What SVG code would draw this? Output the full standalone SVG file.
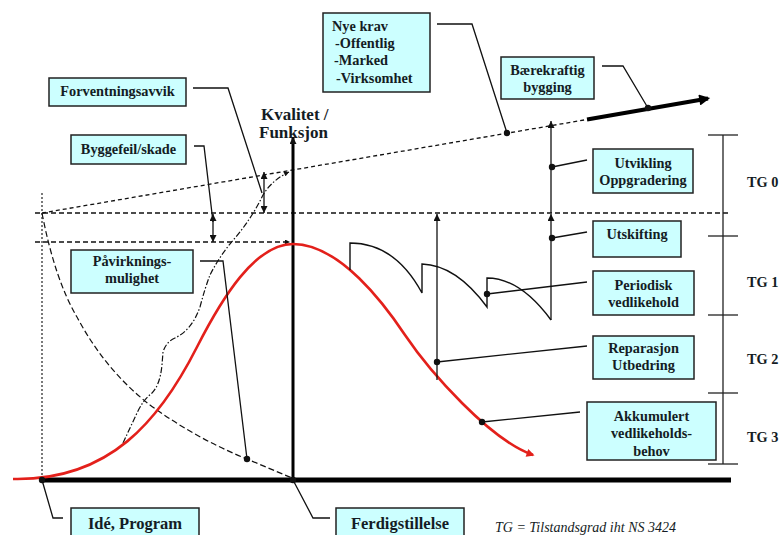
<svg xmlns="http://www.w3.org/2000/svg" width="780" height="535" viewBox="0 0 780 535">
<defs>
<marker id="ah" viewBox="0 0 10 10" refX="10" refY="5" markerUnits="userSpaceOnUse" markerWidth="8" markerHeight="7" orient="auto-start-reverse"><path d="M0,0 L10,5 L0,10 z" fill="#111"/></marker>
<marker id="ahs" viewBox="0 0 10 10" refX="10" refY="5" markerUnits="userSpaceOnUse" markerWidth="6" markerHeight="5" orient="auto-start-reverse"><path d="M0,0 L10,5 L0,10 z" fill="#111"/></marker>
<marker id="ahb" viewBox="0 0 10 10" refX="8" refY="5" markerUnits="userSpaceOnUse" markerWidth="14" markerHeight="11" orient="auto"><path d="M0,0 L10,5 L0,10 z" fill="#000"/></marker>
<marker id="ahr" viewBox="0 0 10 10" refX="8" refY="5" markerUnits="userSpaceOnUse" markerWidth="10" markerHeight="8" orient="auto"><path d="M0,0 L10,5 L0,10 z" fill="#e3201b"/></marker>
</defs>
<style>
.box{fill:#ccffff;stroke:#222;stroke-width:1.5}
.t{font-family:"Liberation Serif","Times New Roman",serif;font-weight:bold;font-size:14.3px;fill:#141c24}
.big{font-size:16.5px}
.c{text-anchor:middle}
.ln{fill:none;stroke:#111;stroke-width:1.3}
.dot{fill:#111}
.dash{fill:none;stroke:#111;stroke-width:1.3;stroke-dasharray:5 3}
</style>
<rect width="780" height="535" fill="#fff"/>

<g id="connectors">
  <!-- reference lines -->
  <line x1="42" y1="193" x2="42" y2="480" stroke="#222" stroke-width="1.2" stroke-dasharray="2 2"/>
  <line class="dash" x1="35" y1="213" x2="728" y2="213"/>
  <line class="dash" x1="35" y1="242" x2="290" y2="242" marker-end="url(#ahs)"/>
  <line x1="42" y1="213" x2="587" y2="119.5" stroke="#111" stroke-width="1.3" stroke-dasharray="4 3"/>
  <line x1="587" y1="119.5" x2="708" y2="98.5" stroke="#000" stroke-width="4" marker-end="url(#ahb)"/>
  <!-- influence curve (long dash) -->
  <path d="M42,213 Q55,280 77,317 Q105,370 150,405 Q195,438 247,459 L292,478" fill="none" stroke="#111" stroke-width="1.2" stroke-dasharray="6 3"/>
  <!-- expectation curve (dash-dot) -->
  <path d="M123,443 L137,413 Q143,400 152,393 Q160,385 162,365 L163,352 Q166,342 175,338 Q192,330 200,307 Q205,288 210,275 Q220,255 235,238 Q252,218 263,195 Q272,180 289,172" fill="none" stroke="#111" stroke-width="1.2" stroke-dasharray="6 2 1.5 2" marker-end="url(#ahs)"/>
  <!-- axes -->
  <line x1="42" y1="480" x2="731" y2="480" stroke="#000" stroke-width="5"/>
  <line x1="293" y1="482" x2="293" y2="137" stroke="#000" stroke-width="3" marker-end="url(#ah)"/>
  <!-- red curve -->
  <path d="M13,479 C110,481 160,420 197,347 C222,298 255,244 293,244 C340,244 385,305 405,335 C430,372 490,440 533,455" fill="none" stroke="#e3201b" stroke-width="2.6" marker-end="url(#ahr)"/>
  <!-- sawtooth maintenance curve -->
  <path d="M350,270 L350,243 Q395,243 422,293 L422,264 Q456,265 487,307 L487,278 Q520,278 551,320" fill="none" stroke="#111" stroke-width="1.4"/>
  <line class="ln" x1="437" y1="380" x2="437" y2="214" marker-end="url(#ah)"/>
  <line class="ln" x1="551" y1="320" x2="551" y2="214" marker-end="url(#ah)"/>
  <line class="ln" x1="551" y1="213" x2="551" y2="121" marker-end="url(#ah)"/>
  <!-- double arrows -->
  <line class="ln" x1="213" y1="214" x2="213" y2="242" marker-start="url(#ah)" marker-end="url(#ah)"/>
  <line class="ln" x1="264" y1="172" x2="264" y2="213" marker-start="url(#ah)" marker-end="url(#ah)"/>
  <!-- TG scale -->
  <g stroke="#222" stroke-width="1.3">
    <line x1="723" y1="135" x2="723" y2="464"/>
    <line x1="708" y1="135" x2="738" y2="135"/>
    <line x1="708" y1="236" x2="738" y2="236"/>
    <line x1="708" y1="315" x2="738" y2="315"/>
    <line x1="708" y1="393" x2="738" y2="393"/>
    <line x1="708" y1="464" x2="738" y2="464"/>
  </g>
  <!-- label leaders -->
  <polyline class="ln" points="193,88 228,88 262,193"/>
  <polyline class="ln" points="194,146 204,146 213,222"/>
  <polyline class="ln" points="200,261 223,261 247,459"/>
  <polyline class="ln" points="437,24 472,24 507,133"/>
  <polyline class="ln" points="602,66 623,66 648,108"/>
  <line class="ln" x1="552" y1="167" x2="587" y2="160"/>
  <line class="ln" x1="552" y1="238" x2="587" y2="232"/>
  <line class="ln" x1="487" y1="294" x2="587" y2="282"/>
  <line class="ln" x1="437" y1="362" x2="587" y2="346"/>
  <line class="ln" x1="482" y1="422" x2="580" y2="412"/>
  <polyline class="ln" points="42,480 53,518 63,518"/>
  <polyline class="ln" points="293,480 313,518 330,518"/>
  <!-- dots -->
  <circle class="dot" cx="42" cy="480" r="3.2"/>
  <circle class="dot" cx="293" cy="480" r="3.2"/>
  <circle class="dot" cx="247" cy="459" r="3.2"/>
  <circle class="dot" cx="507" cy="133" r="3.2"/>
  <circle class="dot" cx="648" cy="108" r="3.2"/>
  <circle class="dot" cx="552" cy="167" r="3.2"/>
  <circle class="dot" cx="552" cy="238" r="3.2"/>
  <circle class="dot" cx="487" cy="294" r="3.2"/>
  <circle class="dot" cx="437" cy="362" r="3.2"/>
  <circle class="dot" cx="482" cy="422" r="3.2"/>
</g>

<g id="axis-label">
  <text class="t" x="261" y="120" font-size="17px" style="font-size:17px">Kvalitet /</text>
  <text class="t" x="259" y="138" style="font-size:17px">Funksjon</text>
</g>

<g id="node-forventningsavvik">
  <rect class="box" x="49" y="78" width="137" height="28"/>
  <text class="t c" x="117.5" y="96">Forventningsavvik</text>
</g>
<g id="node-byggefeil">
  <rect class="box" x="71" y="135" width="115" height="29"/>
  <text class="t c" x="128.5" y="154">Byggefeil/skade</text>
</g>
<g id="node-pavirkning">
  <rect class="box" x="71" y="250" width="122" height="43"/>
  <text class="t c" x="132" y="266">Påvirknings-</text>
  <text class="t c" x="132" y="283">mulighet</text>
</g>
<g id="node-nyekrav">
  <rect class="box" x="323" y="13" width="107" height="79"/>
  <text class="t" x="332" y="31">Nye krav</text>
  <text class="t" x="335" y="48">-Offentlig</text>
  <text class="t" x="334" y="65">-Marked</text>
  <text class="t" x="336" y="83">-Virksomhet</text>
</g>
<g id="node-baerekraftig">
  <rect class="box" x="501" y="57" width="93" height="42"/>
  <text class="t c" x="547.5" y="75">Bærekraftig</text>
  <text class="t c" x="547.5" y="92">bygging</text>
</g>
<g id="node-utvikling">
  <rect class="box" x="593" y="149" width="100" height="44"/>
  <text class="t c" x="643" y="168">Utvikling</text>
  <text class="t c" x="643" y="185">Oppgradering</text>
</g>
<g id="node-utskifting">
  <rect class="box" x="593" y="221" width="88" height="36"/>
  <text class="t c" x="637" y="239">Utskifting</text>
</g>
<g id="node-periodisk">
  <rect class="box" x="593" y="271" width="101" height="44"/>
  <text class="t c" x="643.5" y="290">Periodisk</text>
  <text class="t c" x="643.5" y="307">vedlikehold</text>
</g>
<g id="node-reparasjon">
  <rect class="box" x="593" y="336" width="101" height="43"/>
  <text class="t c" x="643.5" y="353">Reparasjon</text>
  <text class="t c" x="643.5" y="370">Utbedring</text>
</g>
<g id="node-akkumulert">
  <rect class="box" x="587" y="402" width="129" height="58"/>
  <text class="t c" x="651.5" y="421">Akkumulert</text>
  <text class="t c" x="651.5" y="438">vedlikeholds-</text>
  <text class="t c" x="651.5" y="456">behov</text>
</g>
<g id="node-ide">
  <rect class="box" x="71" y="508" width="128" height="32"/>
  <text class="t big c" x="135" y="529">Idé, Program</text>
</g>
<g id="node-ferdig">
  <rect class="box" x="336" y="508" width="128" height="32"/>
  <text class="t big c" x="400" y="529">Ferdigstillelse</text>
</g>

<g id="tg-labels">
  <text class="t" x="747" y="187">TG 0</text>
  <text class="t" x="747" y="287">TG 1</text>
  <text class="t" x="747" y="364">TG 2</text>
  <text class="t" x="747" y="442">TG 3</text>
  <text x="495" y="532" font-family="Liberation Serif, Times New Roman, serif" font-style="italic" font-size="14px" fill="#141c24">TG = Tilstandsgrad iht NS 3424</text>
</g>
</svg>
